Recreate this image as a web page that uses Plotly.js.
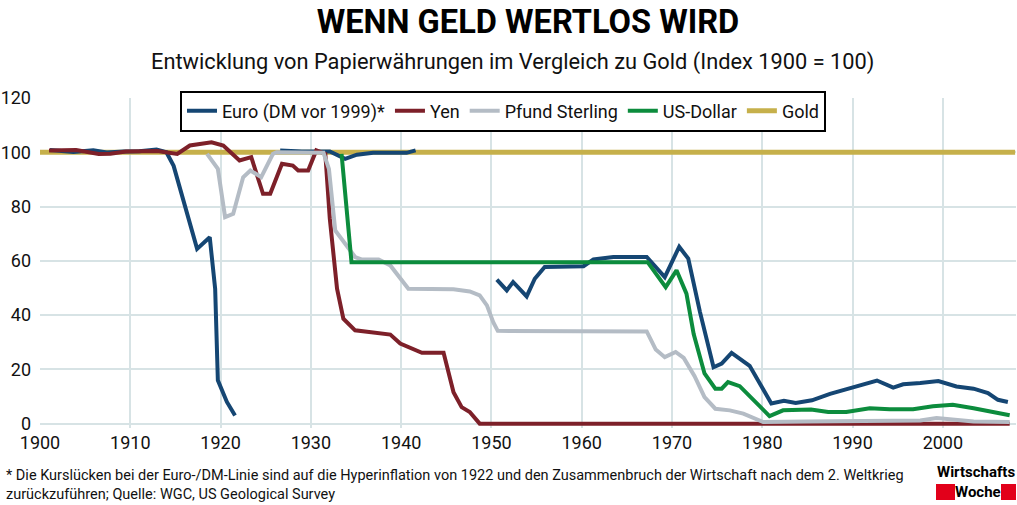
<!DOCTYPE html>
<html>
<head>
<meta charset="utf-8">
<script src="https://cdn.plot.ly/plotly-3.0.1.min.js"></script>
<style>
html,body{margin:0;padding:0;background:#fff;}
#chart{width:1017px;height:505px;}
</style>
</head>
<body>
<div id="chart"></div>
<script>
// ---- data ----
var euroYears = [1901.1,1903.7,1905.9,1907.4,1909.2,1911.0,1912.9,1914.0,1914.8,1917.4,1918.8,1919.0,1919.4,1919.7,1920.7,1921.6,
  null,
  1926.6,1929.0,1932.1,1933.8,1935.1,1936.9,1940.6,1941.6,
  null,
  1950.6,1951.7,1952.4,1953.9,1954.8,1955.9,1960.2,1961.3,1963.5,1967.2,1969.2,1970.8,1971.8,1973.1,1974.6,1975.5,1976.6,1978.6,
  1981.0,1982.4,1983.7,1985.5,1987.5,1990.3,1992.7,1994.5,1995.6,1997.5,1999.5,2001.5,2003.4,2005.0,2006.1,2007.2];
var euroValues = [100.8,100.1,100.7,99.9,100.3,100.4,101.0,100.0,95.0,64.4,68.7,61.4,49.7,16.0,8.0,3.0,
  null,
  100.7,100.3,100.3,97.6,99.1,99.8,99.8,100.7,
  null,
  53.1,49.1,52.2,46.9,53.4,57.7,58.0,60.5,61.4,61.4,54.0,65.2,60.8,41.1,20.8,22.1,26.1,21.3,
  7.4,8.4,7.6,8.6,11.0,13.5,15.9,13.3,14.5,15.0,15.7,13.7,12.9,11.3,8.8,8.0];

var yenYears = [1901.0,1904.0,1906.5,1907.8,1909.5,1913.0,1915.2,1916.6,1919.0,1920.3,1922.1,1923.4,1924.7,1925.5,1926.8,1928.0,1928.6,1929.7,
  1930.6,1931.6,1932.1,1932.9,1933.6,1934.9,1938.8,1939.9,1942.3,1944.7,1945.8,1946.7,1947.6,1948.7,2007.4];
var yenValues = [100.7,100.8,99.4,99.5,100.3,100.5,99.4,102.5,103.7,102.5,97.0,98.2,84.7,84.7,95.8,95.1,93.3,93.3,
  100.7,99.4,75.5,49.7,38.7,34.4,32.8,29.5,26.1,26.1,11.6,6.1,4.3,0.0,0.0];

var gbpYears = [1918.5,1919.7,1920.5,1921.4,1922.5,1923.3,1924.5,1925.8,1926.2,1931.4,1932.0,1932.7,1934.9,1935.6,1937.5,1938.8,1940.8,
  1945.8,1947.6,1948.7,1949.5,1950.2,1950.7,1967.2,1968.2,1969.2,1970.4,1971.3,1972.5,1973.6,1974.8,1976.4,1977.9,1979.1,1980.1,
  1984.9,1992.3,1997.5,1999.3,2001.1,2003.4,2007.4];
var gbpValues = [99.4,93.9,76.1,77.3,90.8,93.3,90.8,99.4,100.0,99.8,93.9,71.2,61.4,60.5,60.5,58.3,49.7,
  49.5,48.7,47.3,43.6,37.4,34.2,34.0,27.3,24.5,26.4,24.2,17.5,9.8,5.5,4.9,3.7,2.0,0.6,
  0.8,1.2,1.2,2.1,1.5,0.8,0.6];

var usdYears = [1933.4,1934.5,1967.3,1969.3,1970.5,1971.6,1972.4,1973.6,1974.8,1975.5,1976.2,1977.5,1980.8,1982.3,1985.4,1987.3,1989.3,
  1991.9,1994.1,1996.7,1998.9,2001.1,2003.4,2007.4];
var usdValues = [99.4,59.5,59.5,50.3,56.5,47.9,33.0,18.5,12.9,12.9,15.3,13.8,2.8,4.9,5.2,4.3,4.3,
  5.7,5.3,5.3,6.4,7.0,5.7,3.1];

var goldYears = [1900,2008];
var goldValues = [100,100];

var seriesNames = ['Euro (DM vor 1999)*','Yen','Pfund Sterling','US-Dollar','Gold'];
var xTicks = [1900,1910,1920,1930,1940,1950,1960,1970,1980,1990,2000];
var yTicks = [0,20,40,60,80,100,120];

var titleText = 'WENN GELD WERTLOS WIRD';
var subtitleText = 'Entwicklung von Papierwährungen im Vergleich zu Gold (Index 1900 = 100)';
var noteText = '* Die Kurslücken bei der Euro-/DM-Linie sind auf die Hyperinflation von 1922 und den Zusammenbruch der Wirtschaft nach dem 2. Weltkrieg<br>zurückzuführen; Quelle: WGC, US Geological Survey';

// ---- styling ----
var FONT = "Roboto, 'Liberation Sans', sans-serif";
var cEuro = '#154673', cYen = '#7d2029', cGbp = '#b4bcc5', cUsd = '#0c8c3d', cGold = '#c6b04b';

function tr(x, y, name, color, width, rank) {
  return {x: x, y: y, name: name, type: 'scatter', mode: 'lines', connectgaps: false,
    line: {color: color, width: width}, legendrank: rank, hoverinfo: 'skip'};
}

var traces = [
  tr(goldYears, goldValues, seriesNames[4], cGold, 5, 5),
  tr(euroYears, euroValues, seriesNames[0], cEuro, 4, 1),
  tr(yenYears, yenValues, seriesNames[1], cYen, 4, 2),
  tr(gbpYears, gbpValues, seriesNames[2], cGbp, 4, 3),
  tr(usdYears, usdValues, seriesNames[3], cUsd, 4, 4)
];

var PL = 40, PT = 98, PW = 976, PH = 330;
function px2x(p){ return (p - PL) / PW; }
function px2y(p){ return (PT + PH - p) / PH; }

var layout = {
  width: 1017, height: 505,
  margin: {l: PL, r: 1017 - PL - PW, t: PT, b: 505 - PT - PH, pad: 0},
  paper_bgcolor: '#ffffff', plot_bgcolor: '#ffffff',
  font: {family: FONT, color: '#111111', size: 18},
  showlegend: true,
  title: {text: '<b>' + titleText + '</b>', x: 0.5, xanchor: 'center', xref: 'paper',
    y: 1 - 22/505, yref: 'container', yanchor: 'middle',
    font: {family: FONT, size: 32.6, color: '#000000'}},
  xaxis: {range: [1900, 2008.1], tickvals: xTicks, ticktext: xTicks.map(String),
    showgrid: true, gridcolor: '#d7e3e5', gridwidth: 2, zeroline: false, showline: false,
    ticks: '', ticklabelstandoff: 2, tickfont: {family: FONT, size: 18, color: '#111111'}, fixedrange: true},
  yaxis: {range: [-1.6, 120], tickvals: yTicks, ticktext: yTicks.map(String),
    showgrid: true, gridcolor: '#d7e3e5', gridwidth: 2, zeroline: false, showline: false,
    ticks: '', ticklabelstandoff: 8, tickfont: {family: FONT, size: 18, color: '#111111'}, fixedrange: true},
  legend: {orientation: 'h', x: px2x(180), xanchor: 'left', y: px2y(90.5), yanchor: 'top',
    bgcolor: '#ffffff', bordercolor: '#000000', borderwidth: 2,
    font: {family: FONT, size: 18, color: '#111111'}, traceorder: 'normal'},
  annotations: [
    {text: subtitleText, xref: 'paper', yref: 'paper', x: px2x(512), y: px2y(62), xanchor: 'center', yanchor: 'middle',
      showarrow: false, font: {family: FONT, size: 21.8, color: '#111111'}},
    {text: noteText, xref: 'paper', yref: 'paper', x: px2x(4), y: px2y(465), xanchor: 'left', yanchor: 'top',
      align: 'left', showarrow: false, font: {family: FONT, size: 14.5, color: '#111111'}},
    {text: '<b>Wirtschafts</b>', xref: 'paper', yref: 'paper', x: px2x(976), y: px2y(472), xanchor: 'center', yanchor: 'middle',
      showarrow: false, font: {family: FONT, size: 15, color: '#000000'}},
    {text: '<b>Woche</b>', xref: 'paper', yref: 'paper', x: px2x(978), y: px2y(492), xanchor: 'center', yanchor: 'middle',
      showarrow: false, font: {family: FONT, size: 15, color: '#000000'}}
  ],
  shapes: [
    {type: 'rect', xref: 'paper', yref: 'paper', x0: px2x(936), x1: px2x(955), y0: px2y(484), y1: px2y(500),
      fillcolor: '#e2001a', line: {width: 0}, layer: 'above'},
    {type: 'rect', xref: 'paper', yref: 'paper', x0: px2x(1001), x1: px2x(1016), y0: px2y(484), y1: px2y(500),
      fillcolor: '#e2001a', line: {width: 0}, layer: 'above'}
  ]
};

Plotly.newPlot('chart', traces, layout, {displayModeBar: false, staticPlot: true});
</script>
</body>
</html>
